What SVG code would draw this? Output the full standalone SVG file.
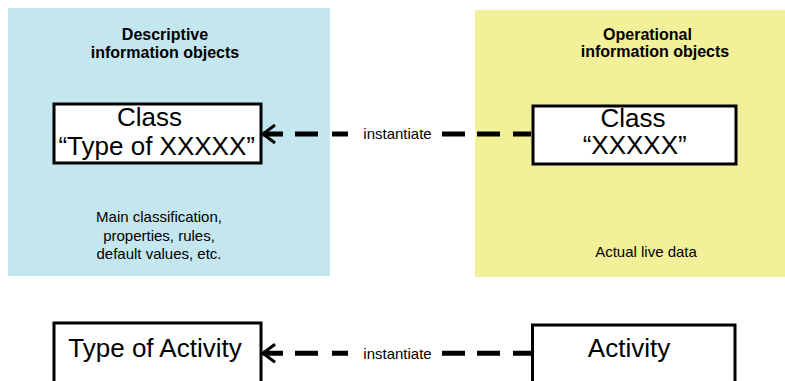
<svg xmlns="http://www.w3.org/2000/svg" width="785" height="381" viewBox="0 0 785 381">
<style>
text{font-family:"Liberation Sans",Arial,sans-serif;fill:#000;text-anchor:middle}
.t{font-size:16px;font-weight:bold}
.b{font-size:26px}
.s{font-size:15px}
.box{fill:#fff;stroke:#000;stroke-width:3}
.con{fill:none;stroke:#000;stroke-width:5;stroke-dasharray:18 13 23 12 23 94 16 14 23 12 21}
</style>
<defs>
<marker id="arr" markerUnits="userSpaceOnUse" markerWidth="30" markerHeight="30" viewBox="-15 -15 30 30" refX="0" refY="0" orient="auto" overflow="visible">
<path d="M-12,-9 L0,0 L-12,9" fill="none" stroke="#000" stroke-width="3"/>
</marker>
</defs>
<g id="descriptive-panel">
<rect x="8" y="8" width="322" height="268" fill="#C4E6EF"/>
<text class="t" x="165" y="39.5">Descriptive</text>
<text class="t" x="165" y="58">information objects</text>
<text class="s" x="159" y="222">Main classification,</text>
<text class="s" x="159" y="240.7">properties, rules,</text>
<text class="s" x="159" y="259.4">default values, etc.</text>
</g>
<g id="operational-panel">
<rect x="475" y="10" width="310" height="267" fill="#F2F098"/>
<text class="t" x="647.5" y="39.5">Operational</text>
<text class="t" x="655" y="57">information objects</text>
<text class="s" x="646" y="257.3">Actual live data</text>
</g>
<g id="connectors">
<path class="con" d="M531,134 H263" marker-end="url(#arr)"/>
<path class="con" d="M531,353.3 H263" marker-end="url(#arr)"/>
<text class="s" x="397.5" y="139">instantiate</text>
<text class="s" x="397.5" y="358.5">instantiate</text>
</g>
<g id="class-type">
<rect class="box" x="54" y="104" width="207" height="59"/>
<text class="b" x="149.5" y="125.7">Class</text>
<text class="b" x="156.7" y="155">“Type of XXXXX”</text>
</g>
<g id="class-instance">
<rect class="box" x="533" y="106" width="203" height="58"/>
<text class="b" x="633" y="127.3">Class</text>
<text class="b" x="634.7" y="154.3">“XXXXX”</text>
</g>
<g id="type-of-activity">
<rect class="box" x="54" y="323" width="207" height="80"/>
<text class="b" x="155" y="356.7">Type of Activity</text>
</g>
<g id="activity">
<rect class="box" x="532.5" y="325" width="202.5" height="80"/>
<text class="b" x="629" y="356.7">Activity</text>
</g>
</svg>
